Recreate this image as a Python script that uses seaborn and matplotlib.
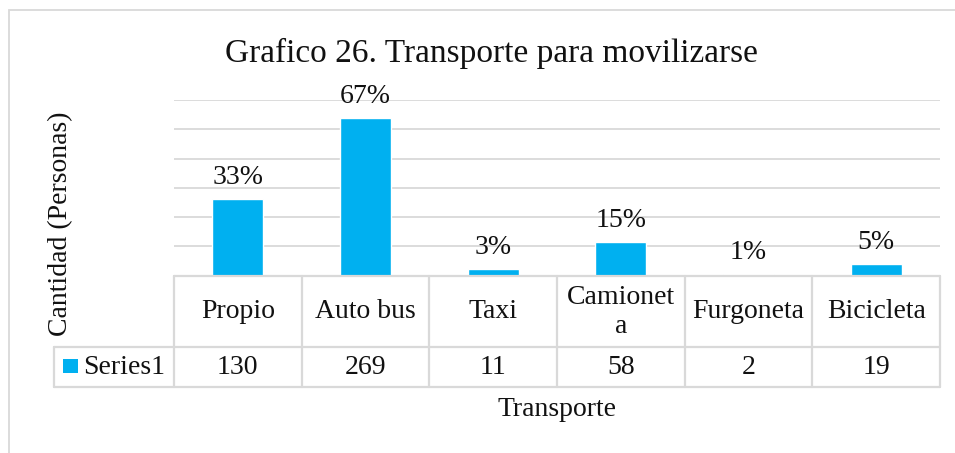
import matplotlib
matplotlib.use("Agg")
import matplotlib.pyplot as plt
import seaborn as sns
import pandas as pd
from matplotlib import transforms
from matplotlib.patches import Rectangle
from matplotlib.lines import Line2D

# ---------------- data ----------------
categories = ["Propio", "Auto bus", "Taxi", "Camioneta", "Furgoneta", "Bicicleta"]
header_labels = ["Propio", "Auto bus", "Taxi", "Camionet\na", "Furgoneta", "Bicicleta"]
values = [130, 269, 11, 58, 2, 19]
pct_labels = ["33%", "67%", "3%", "15%", "1%", "5%"]
series_name = "Series1"
title = "Grafico 26. Transporte para movilizarse"
x_title = "Transporte"
y_title = "Cantidad (Personas)"

# ---------------- style ----------------
sns.set_style("white")
plt.rcParams["font.family"] = ["Liberation Serif", "DejaVu Serif"]
BAR = "#00B0F0"
GRID = "#d9d9d9"
TXT = "#111111"

W, H = 955, 453
fig = plt.figure(figsize=(W / 100, H / 100), dpi=100)
fig.patch.set_facecolor("white")


def fx(px):
    return px / W


def fy(py):
    return 1 - py / H


# plot area
x0, x1, ytop, ybase = 174, 940, 100, 275.5
ax = fig.add_axes([fx(x0), fy(ybase), (x1 - x0) / W, (ybase - ytop) / H])
df = pd.DataFrame({"cat": categories, "val": values})
sns.barplot(data=df, x="cat", y="val", color=BAR, saturation=1, width=0.4, ax=ax)
ax.set_xlim(-0.5, len(categories) - 0.5)
ax.set_ylim(0, 300)
ax.set_yticks(range(0, 301, 50))
ax.yaxis.grid(True, color=GRID, lw=1.3)
ax.set_axisbelow(True)
for s in ax.spines.values():
    s.set_visible(False)
ax.tick_params(left=False, bottom=False, labelleft=False, labelbottom=False)
ax.set_xlabel("")
ax.set_ylabel("")

# data labels
for i, (v, p) in enumerate(zip(values, pct_labels)):
    ax.annotate(p, (i, v), xytext=(0, 15 * 0.72), textcoords="offset points",
                ha="center", va="baseline", fontsize=20, color=TXT)

# ---------------- data table ----------------
tr = transforms.blended_transform_factory(ax.transData, fig.transFigure)
unit = (x1 - x0) / len(categories)
xl = -0.5 - (x0 - 54) / unit
xr = len(categories) - 0.5
y_head_top, y_row_top, y_row_bot = 275.5, 347, 387
lw_t = 1.6

def hline(xa, xb, py):
    fig.add_artist(Line2D([xa, xb], [fy(py), fy(py)], transform=tr, color=GRID, lw=lw_t))

def vline(xx, pya, pyb):
    fig.add_artist(Line2D([xx, xx], [fy(pya), fy(pyb)], transform=tr, color=GRID, lw=lw_t))

hline(-0.5, xr, y_head_top)
hline(xl, xr, y_row_top)
hline(xl, xr, y_row_bot)
vline(xl, y_row_top, y_row_bot)
for k in range(len(categories) + 1):
    vline(-0.5 + k, y_head_top, y_row_bot)

for i, lab in enumerate(header_labels):
    fig.text(i, fy(312), lab, transform=tr, ha="center", va="center",
             fontsize=20, color=TXT, linespacing=1.25)
for i, v in enumerate(values):
    fig.text(i, fy(367), str(v), transform=tr, ha="center", va="center",
             fontsize=20, color=TXT)

fig.add_artist(Rectangle((fx(63), fy(373)), 15 / W, 14 / H, transform=fig.transFigure,
                         facecolor=BAR, edgecolor="none"))
fig.text(fx(83), fy(367), series_name, ha="left", va="center", fontsize=20, color=TXT)

# ---------------- titles ----------------
fig.text(fx(491), fy(62), title, ha="center", va="baseline", fontsize=24, color=TXT)
fig.text(fx(557), fy(409), x_title, ha="center", va="center", fontsize=20, color=TXT)
fig.text(fx(61), fy(224), y_title, ha="center", va="center", rotation=90,
         fontsize=20, color=TXT)

# chart border (right/bottom are outside the image)
fig.add_artist(Rectangle((fx(9), fy(480)), (990 - 9) / W, (480 - 10) / H,
                         transform=fig.transFigure, fill=False, edgecolor=GRID, lw=1.3,
                         clip_on=False))

fig.savefig("out.png", dpi=100, facecolor="white")
